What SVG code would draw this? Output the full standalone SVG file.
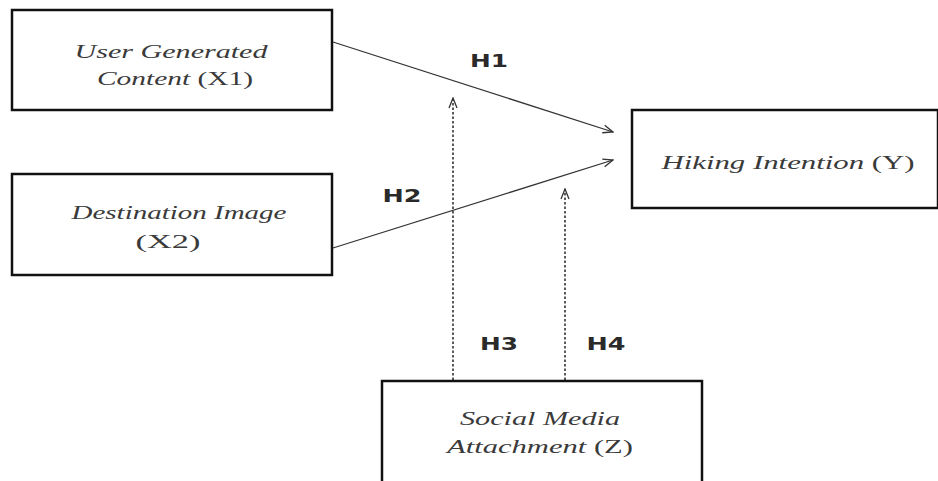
<svg xmlns="http://www.w3.org/2000/svg" width="938" height="481" viewBox="0 0 938 481">
<style>
.box{fill:#fff;stroke:#111;stroke-width:2.5}
.lbl{font-family:"Liberation Serif",serif;font-size:19px;fill:#3a3a3a;text-anchor:middle}
.it{font-style:italic}
.h{font-family:"DejaVu Sans",sans-serif;font-size:17px;fill:#2a2a2a;text-anchor:middle;font-weight:bold}
.ln{stroke:#333;stroke-width:1.3;fill:none}
.ds{stroke:#333;stroke-width:1.6;fill:none;stroke-dasharray:2.5 2}
</style>
<defs>
<marker id="ah" markerWidth="12" markerHeight="10" refX="11" refY="5" orient="auto" markerUnits="userSpaceOnUse">
<path d="M1,1 L11,5 L1,9" fill="none" stroke="#333" stroke-width="1.3"/>
</marker>
</defs>
<rect width="938" height="481" fill="#fff"/>
<g id="connectors">
<line class="ln" x1="333" y1="42" x2="613" y2="132" marker-end="url(#ah)"/>
<line class="ln" x1="333" y1="248" x2="613" y2="160" marker-end="url(#ah)"/>
<line class="ds" x1="453" y1="380" x2="453" y2="98" marker-end="url(#ah)"/>
<line class="ds" x1="565" y1="380" x2="565" y2="189" marker-end="url(#ah)"/>
<text class="h" x="489" y="67" textLength="38" lengthAdjust="spacingAndGlyphs">H1</text>
<text class="h" x="402" y="202" textLength="39" lengthAdjust="spacingAndGlyphs">H2</text>
<text class="h" x="499" y="350" textLength="38" lengthAdjust="spacingAndGlyphs">H3</text>
<text class="h" x="606" y="350" textLength="39" lengthAdjust="spacingAndGlyphs">H4</text>
</g>
<g id="x1">
<rect class="box" x="12" y="10" width="320" height="100"/>
<text class="lbl it" x="171" y="58" textLength="193" lengthAdjust="spacingAndGlyphs">User Generated</text>
<text class="lbl" x="175" y="85" textLength="156" lengthAdjust="spacingAndGlyphs"><tspan class="it">Content </tspan>(X1)</text>
</g>
<g id="x2">
<rect class="box" x="12" y="174" width="320" height="101"/>
<text class="lbl it" x="179" y="219" textLength="215" lengthAdjust="spacingAndGlyphs">Destination Image</text>
<text class="lbl" x="168" y="248" textLength="65" lengthAdjust="spacingAndGlyphs">(X2)</text>
</g>
<g id="y">
<rect class="box" x="632" y="110" width="306" height="98"/>
<text class="lbl" x="788" y="169" textLength="253" lengthAdjust="spacingAndGlyphs"><tspan class="it">Hiking Intention </tspan>(Y)</text>
</g>
<g id="z">
<rect class="box" x="382" y="381" width="320" height="102"/>
<text class="lbl it" x="540" y="425" textLength="160" lengthAdjust="spacingAndGlyphs">Social Media</text>
<text class="lbl" x="540" y="453" textLength="186" lengthAdjust="spacingAndGlyphs"><tspan class="it">Attachment </tspan>(Z)</text>
</g>
</svg>
